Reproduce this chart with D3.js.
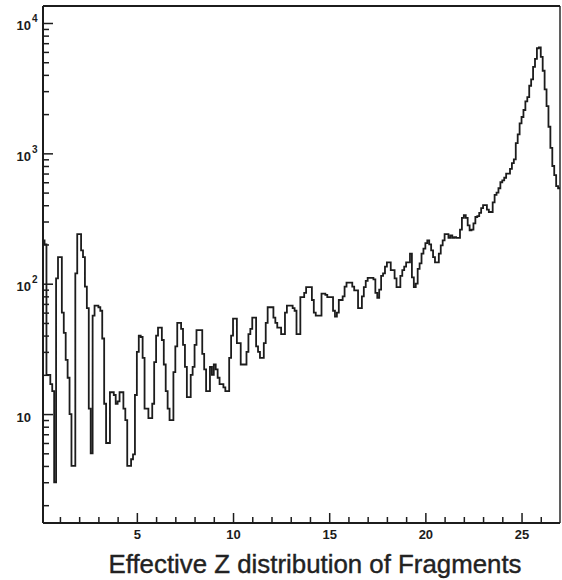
<!DOCTYPE html>
<html>
<head>
<meta charset="utf-8">
<script src="https://cdn.jsdelivr.net/npm/d3@7"></script>
<style>
  body { margin: 0; background: #fff; }
  svg { display: block; }
</style>
</head>
<body>
<svg id="chart" width="562" height="580"></svg>
<script>
// Histogram of effective Z, fixed-width bins starting at binStart
const binStart = 0.1;
const binWidth = 0.1;
const counts = [
  215, 200, 20, 20, 17, 15, 3, 110, 160, 160,
  60, 42, 26, 19, 10, 4, 4, 120, 240, 240,
  180, 160, 95, 65, 11, 5, 57, 68, 68, 66,
  62, 38, 12, 6, 6, 14.7, 14.7, 14, 12, 12.5,
  14.7, 14.7, 11, 9, 4, 4, 4.5, 4.9, 14, 30,
  40, 39, 27, 11, 11, 9.3, 9.3, 12, 25, 40,
  46, 46, 37, 24, 15, 11, 9, 9, 21, 33,
  50, 50, 45, 34, 23, 13.5, 13.5, 20, 23, 34,
  44, 44, 44, 29, 22, 15, 15, 23, 20, 24,
  22, 19, 17, 17, 16, 15, 15, 27, 40, 54,
  54, 35, 35, 24, 24, 24, 30, 41, 45, 55,
  55, 33, 30, 27, 27, 35, 50, 66, 66, 66,
  55, 50, 46, 46, 41, 41, 60, 68, 68, 68,
  65, 62, 41, 41, 79, 79, 85, 94, 94, 94,
  75, 60, 57, 57, 57, 84, 84, 82, 79, 79,
  79, 62, 56, 60, 75, 75, 80, 95, 102, 102,
  102, 95, 89, 89, 65, 65, 80, 94, 105, 111,
  111, 111, 108, 85, 78, 90, 115, 120, 135, 146,
  146, 127, 127, 110, 94, 94, 115, 127, 135, 146,
  146, 170, 112, 94, 100, 130, 143, 170, 186, 205,
  215, 200, 180, 160, 146, 146, 170, 197, 215, 240,
  240, 225, 235, 225, 228, 225, 225, 260, 320, 335,
  320, 280, 257, 260, 290, 325, 330, 350, 380, 400,
  400, 370, 355, 355, 420, 480, 500, 540, 600, 620,
  650, 700, 700, 760, 840, 900, 1200, 1400, 1700, 1900,
  2150, 2500, 2700, 3300, 3700, 4600, 5300, 6400, 6500, 5500,
  4300, 3100, 2300, 1600, 1100, 800, 680, 560, 540
];

const xDomain = [0.12, 27.0];
const yDomain = [1.46, 13500];
const xMajorTicks = [5, 10, 15, 20, 25];
const xMinorTicks = d3.range(1, 27);
const yMajorTicks = [10, 100, 1000, 10000];
const yMajorExponents = ["", "2", "3", "4"];
const title = "Effective Z distribution of Fragments";

const svg = d3.select("#chart");
const plot = { left: 43, right: 560, top: 6, bottom: 523 };

const x = d3.scaleLinear().domain(xDomain).range([plot.left, plot.right]);
const y = d3.scaleLog().domain(yDomain).range([plot.bottom, plot.top]);

const ink = "#1c1c1c";
const labelFont = "Liberation Sans, Arial, sans-serif";

// clip the histogram to the frame
svg.append("defs").append("clipPath").attr("id", "plotClip")
  .append("rect")
  .attr("x", plot.left).attr("y", plot.top)
  .attr("width", plot.right - plot.left).attr("height", plot.bottom - plot.top);

// step outline of the histogram
let d = "";
counts.forEach((c, i) => {
  const lo = binStart + i * binWidth;
  const hi = lo + binWidth;
  const yy = y(c);
  d += (i === 0 ? "M" : "L") + x(lo) + "," + yy + "L" + x(hi) + "," + yy;
});
svg.append("path")
  .attr("d", d)
  .attr("clip-path", "url(#plotClip)")
  .attr("fill", "none")
  .attr("stroke", ink)
  .attr("stroke-width", 1.8)
  .attr("stroke-linejoin", "miter");

// frame
const frame = svg.append("g").attr("stroke", ink).attr("fill", "none");
frame.append("line").attr("x1", plot.left).attr("x2", plot.right)
  .attr("y1", plot.top).attr("y2", plot.top).attr("stroke-width", 2.2);
frame.append("line").attr("x1", plot.right).attr("x2", plot.right)
  .attr("y1", plot.top).attr("y2", plot.bottom).attr("stroke-width", 1.4);

// x axis: ticks point up into the plot
const xAxis = svg.append("g").attr("transform", `translate(0,${plot.bottom})`);
xAxis.call(d3.axisBottom(x).tickValues(xMinorTicks).tickSize(-6).tickFormat(""));
xAxis.selectAll(".tick line")
  .attr("y2", d => xMajorTicks.includes(d) ? -10 : -6)
  .attr("stroke", ink).attr("stroke-width", 1.5);
xAxis.select(".domain").attr("stroke", ink).attr("stroke-width", 2)
  .attr("d", `M${plot.left},0H${plot.right}`);
xAxis.selectAll(".tick")
  .filter(d => xMajorTicks.includes(d))
  .append("text")
  .attr("y", 16)
  .attr("fill", ink)
  .attr("font-family", labelFont)
  .attr("font-weight", "bold")
  .attr("font-size", 13)
  .attr("text-anchor", "middle")
  .text(d => d);

// y axis: log decades with minor ticks, pointing right into the plot
const yMinorTicks = [];
[1, 10, 100, 1000, 10000].forEach(dec => {
  for (let m = 1; m <= 9; m++) {
    const v = dec * m;
    if (v >= yDomain[0] && v <= yDomain[1]) yMinorTicks.push(v);
  }
});
const yAxis = svg.append("g").attr("transform", `translate(${plot.left},0)`);
yAxis.call(d3.axisLeft(y).tickValues(yMinorTicks).tickSize(-6).tickFormat(""));
yAxis.selectAll(".tick line")
  .attr("x2", d => yMajorTicks.includes(d) ? 10 : 6)
  .attr("stroke", ink).attr("stroke-width", 1.5);
yAxis.select(".domain").attr("stroke", ink).attr("stroke-width", 2)
  .attr("d", `M0,${plot.top}V${plot.bottom}`);

const majorY = yAxis.selectAll(".tick").filter(d => yMajorTicks.includes(d));
majorY.append("text")
  .attr("fill", ink)
  .attr("font-family", labelFont)
  .attr("font-weight", "bold")
  .attr("font-size", 13)
  .attr("text-anchor", "end")
  .attr("x", -12)
  .attr("y", 7)
  .text("10");
majorY.append("text")
  .attr("fill", ink)
  .attr("font-family", labelFont)
  .attr("font-weight", "bold")
  .attr("font-size", 10)
  .attr("text-anchor", "start")
  .attr("x", -11)
  .attr("y", -1)
  .text(d => yMajorExponents[yMajorTicks.indexOf(d)]);

// caption
svg.append("text")
  .attr("x", 315)
  .attr("y", 573)
  .attr("text-anchor", "middle")
  .attr("fill", "#222")
  .attr("stroke", "#222")
  .attr("stroke-width", 0.4)
  .attr("font-family", labelFont)
  .attr("font-size", 26)
  .attr("textLength", 413)
  .attr("lengthAdjust", "spacingAndGlyphs")
  .text(title);
</script>
</body>
</html>
